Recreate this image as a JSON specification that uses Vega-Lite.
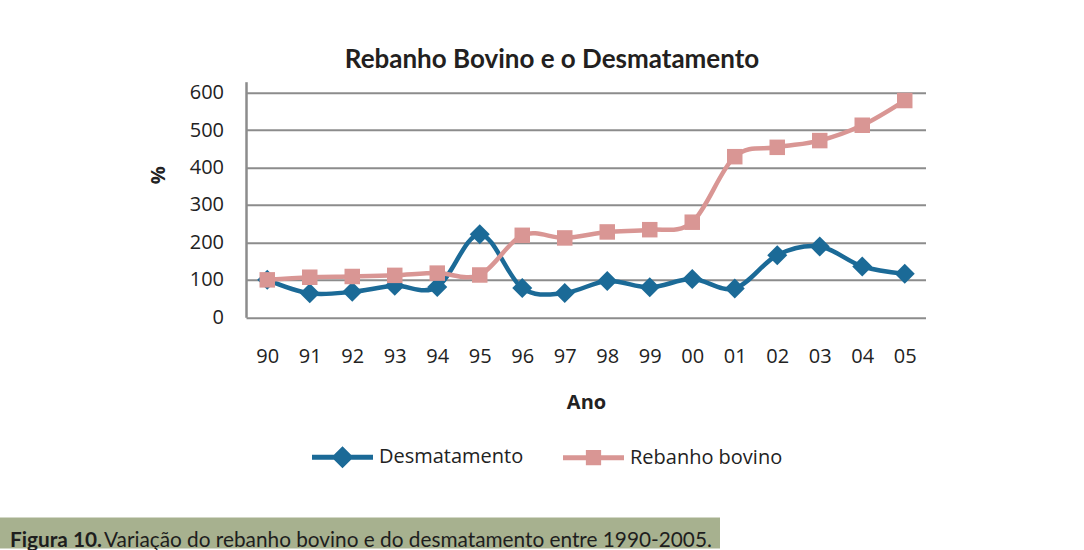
{
  "$schema": "https://vega.github.io/schema/vega-lite/v6.json",
  "background": "white",
  "padding": {"left": 0, "top": 46.7, "right": 0, "bottom": 0},
  "spacing": 104.7,
  "config": {"view": {"stroke": null}},
  "vconcat": [
    {
      "spacing": 0,
      "hconcat": [
        {"width": 45, "height": 10, "data": {"values": []}, "mark": "point"},
        {
          "width": 680,
          "height": 235.6,
          "title": {"text": "Rebanho Bovino e o Desmatamento", "font": "Lato", "fontSize": 26, "fontWeight": "bold", "color": "#231f20", "anchor": "middle", "dx": -34, "offset": -12, "baseline": "alphabetic"},
          "data": {"values": [
            {"ano": "90", "serie": "Desmatamento", "valor": 100},
            {"ano": "91", "serie": "Desmatamento", "valor": 64},
            {"ano": "92", "serie": "Desmatamento", "valor": 68},
            {"ano": "93", "serie": "Desmatamento", "valor": 84},
            {"ano": "94", "serie": "Desmatamento", "valor": 81},
            {"ano": "95", "serie": "Desmatamento", "valor": 222},
            {"ano": "96", "serie": "Desmatamento", "valor": 78},
            {"ano": "97", "serie": "Desmatamento", "valor": 65},
            {"ano": "98", "serie": "Desmatamento", "valor": 97},
            {"ano": "99", "serie": "Desmatamento", "valor": 80},
            {"ano": "00", "serie": "Desmatamento", "valor": 102},
            {"ano": "01", "serie": "Desmatamento", "valor": 77},
            {"ano": "02", "serie": "Desmatamento", "valor": 166},
            {"ano": "03", "serie": "Desmatamento", "valor": 189},
            {"ano": "04", "serie": "Desmatamento", "valor": 136},
            {"ano": "05", "serie": "Desmatamento", "valor": 116},
            {"ano": "90", "serie": "Rebanho bovino", "valor": 100},
            {"ano": "91", "serie": "Rebanho bovino", "valor": 107},
            {"ano": "92", "serie": "Rebanho bovino", "valor": 109},
            {"ano": "93", "serie": "Rebanho bovino", "valor": 112},
            {"ano": "94", "serie": "Rebanho bovino", "valor": 118},
            {"ano": "95", "serie": "Rebanho bovino", "valor": 113},
            {"ano": "96", "serie": "Rebanho bovino", "valor": 219},
            {"ano": "97", "serie": "Rebanho bovino", "valor": 212},
            {"ano": "98", "serie": "Rebanho bovino", "valor": 228},
            {"ano": "99", "serie": "Rebanho bovino", "valor": 234},
            {"ano": "00", "serie": "Rebanho bovino", "valor": 254},
            {"ano": "01", "serie": "Rebanho bovino", "valor": 429},
            {"ano": "02", "serie": "Rebanho bovino", "valor": 454},
            {"ano": "03", "serie": "Rebanho bovino", "valor": 472},
            {"ano": "04", "serie": "Rebanho bovino", "valor": 513},
            {"ano": "05", "serie": "Rebanho bovino", "valor": 579}
          ]},
          "encoding": {
            "x": {"field": "ano", "type": "ordinal", "sort": null, "scale": {"type": "point", "padding": 0.5},
              "axis": {"title": "Ano", "labelAngle": 0, "labelFont": "Open Sans", "labelFontSize": 20, "labelColor": "#222222", "labelPadding": 29, "ticks": false, "domain": false, "grid": false, "titleFont": "Open Sans", "titleFontSize": 20, "titleFontWeight": "bold", "titleColor": "#222222", "titlePadding": 26}},
            "y": {"field": "valor", "type": "quantitative", "scale": {"domain": [0, 629.3], "nice": false, "zero": true},
              "axis": {"values": [0, 100, 200, 300, 400, 500, 600], "title": "%", "titleFont": "Open Sans", "titleFontSize": 20, "titleFontWeight": "bold", "titleColor": "#222222", "titleAngle": -90, "titleX": -88, "titleY": 93, "titleAlign": "center", "titleBaseline": "middle",
                "labelFont": "Open Sans", "labelFontSize": 20, "labelColor": "#222222", "tickSize": 200, "tickColor": "transparent", "labelPadding": -177.5,
                "grid": true, "gridColor": "#8c8c8c", "gridWidth": 2, "domainColor": "#8c8c8c", "domainWidth": 2.5}}
          },
          "layer": [
            {"transform": [{"filter": "datum.serie === 'Desmatamento'"}],
             "mark": {"type": "line", "interpolate": "cardinal", "color": "#1b6a97", "strokeWidth": 4.5}},
            {"transform": [{"filter": "datum.serie === 'Desmatamento'"}],
             "mark": {"type": "point", "shape": "diamond", "filled": true, "color": "#1b6a97", "size": 400, "opacity": 1}},
            {"transform": [{"filter": "datum.serie === 'Rebanho bovino'"}],
             "mark": {"type": "line", "interpolate": "cardinal", "color": "#d99694", "strokeWidth": 4.5}},
            {"transform": [{"filter": "datum.serie === 'Rebanho bovino'"}],
             "mark": {"type": "point", "shape": "square", "filled": true, "color": "#d99694", "size": 240, "opacity": 1}},
            {"transform": [{"filter": "false"}],
             "mark": {"type": "point", "filled": true, "opacity": 1},
             "encoding": {
               "color": {"field": "serie", "type": "nominal",
                 "scale": {"domain": ["Desmatamento", "Rebanho bovino"], "range": ["#1b6a97", "#d99694"]},
                 "legend": {"title": null, "orient": "none", "legendX": 312, "legendY": 344.8, "direction": "horizontal", "symbolSize": 3721, "symbolStrokeWidth": 0, "labelFont": "Open Sans", "labelFontSize": 20, "labelColor": "#222222", "labelOffset": 6, "columnPadding": 39, "padding": 0, "labelLimit": 400}},
               "shape": {"field": "serie", "type": "nominal",
                 "scale": {"domain": ["Desmatamento", "Rebanho bovino"], "range": [
                   "M-1,-0.08H-0.28L0,-0.36L0.28,-0.08H1V0.08H0.28L0,0.36L-0.28,0.08H-1Z",
                   "M-1,-0.08H-0.25V-0.25H0.25V-0.08H1V0.08H0.25V0.25H-0.25V0.08H-1Z"]}}
             }}
          ]
        }
      ]
    },
    {
      "spacing": 0,
      "title": {"text": "Figura 10.", "anchor": "start", "orient": "top", "offset": -50.5, "baseline": "alphabetic", "dx": 10, "font": "Lato", "fontSize": 20.8, "fontWeight": "bold", "color": "#1e1e1e"},
      "vconcat": [
        {"width": 720, "height": 31, "view": {"fill": "#a7b18f", "stroke": null},
         "data": {"values": []}, "mark": "point",
         "title": {"text": "Variação do rebanho bovino e do desmatamento entre 1990-2005.", "anchor": "start", "orient": "top", "offset": -50.5, "baseline": "alphabetic", "dx": 104, "font": "Lato", "fontSize": 20.8, "fontWeight": "normal", "color": "#1e1e1e"}}
      ]
    }
  ]
}
